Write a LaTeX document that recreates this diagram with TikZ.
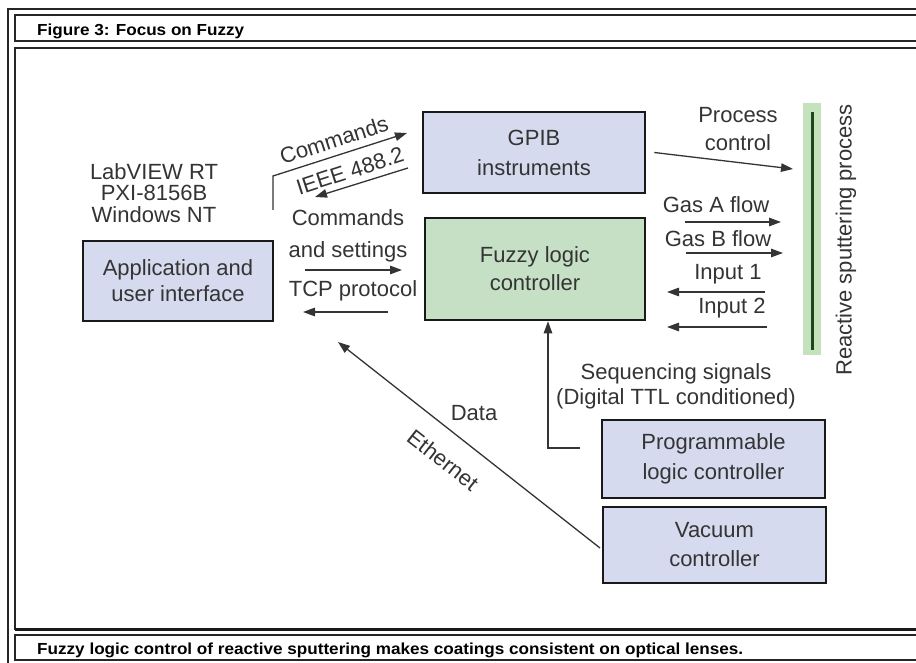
\documentclass[tikz,border=0pt]{standalone}
\usepackage{fontspec}
\setmainfont{Liberation Sans}
\newfontfamily\capfamily[FakeStretch=1.07]{Liberation Sans}
\usetikzlibrary{arrows.meta}

\definecolor{boxblue}{RGB}{214,218,238}
\definecolor{boxgreen}{RGB}{198,224,198}
\definecolor{barlight}{RGB}{196,226,188}
\definecolor{bardark}{RGB}{28,72,28}
\definecolor{inkgray}{RGB}{52,52,52}
\newcommand{\lblfont}{\fontsize{22}{27}\selectfont}
\newcommand{\capfont}{\capfamily\fontsize{16}{18}\selectfont\bfseries}

\begin{document}
\begin{tikzpicture}[x=1pt, y=-1pt,
		blockbox/.style={draw=black!90, line width=2.6pt, fill=boxblue, inner sep=0pt, align=center, text=inkgray, font=\lblfont},
		lbl/.style={inner sep=0pt, align=center, text=inkgray, font=\lblfont},
		flow/.style={draw=inkgray, line width=1.3pt, -{Triangle[length=12pt, width=8.5pt]}},
		frameline/.style={draw=black!85, line width=1.6pt}]
		\clip (0, 0) rectangle (916, 663);
		\fill[white] (0, 0) rectangle (916, 663);

		\draw[frameline] (8, 9) rectangle (930, 675);
		\draw[frameline] (15, 15) rectangle (925, 41);
		\draw[frameline] (15, 48) rectangle (925, 629);
		\draw[black!90, line width=3pt] (15, 629) -- (925, 629);
		\draw[frameline] (15, 635) rectangle (925, 660);
		\node[anchor=base west, inner sep=0pt, font=\capfont] (title) at (37, 35.7) {Figure 3: Focus on Fuzzy};
		\node[anchor=base west, inner sep=0pt, font=\capfont] (caption) at (37, 654) {Fuzzy logic control of reactive sputtering makes coatings consistent on optical lenses.};

		\node[blockbox, minimum width=222pt, minimum height=81pt] (gpib) at (534, 152.5) {GPIB\\[3pt]instruments};
		\node[blockbox, fill=boxgreen, minimum width=220pt, minimum height=102pt] (fuzzy) at (535, 269) {Fuzzy logic\\[1pt]controller};
		\node[blockbox, minimum width=190pt, minimum height=80pt] (app) at (178, 281) {Application and\\[-1pt]user interface};
		\node[blockbox, minimum width=223pt, minimum height=78pt] (plc) at (713.5, 459) {Programmable\\[3pt]logic controller};
		\node[blockbox, minimum width=223pt, minimum height=76pt] (vacuum) at (714.5, 545) {Vacuum\\[2pt]controller};

		\node[fill=barlight, minimum width=18pt, minimum height=252pt, inner sep=0pt] (sputter) at (812, 229) {};
		\draw[bardark, line width=3pt] ([yshift=-9pt]sputter.north) -- ([yshift=5pt]sputter.south);
		\node[lbl, rotate=90] (sputterlbl) at (846, 240) {Reactive sputtering process};

		\node[lbl] (labview) at (154, 193) {LabVIEW RT\\[-5.5pt]PXI-8156B\\[-5.5pt]Windows NT};

		\coordinate (cmdstart) at (273, 210);
		\coordinate (cmdbend) at (273, 176);
		\coordinate (cmdtip) at (407, 133);
		\draw[flow] (cmdstart) -- (cmdbend) -- (cmdtip);
		\coordinate (ieeestart) at (408, 168);
		\coordinate (ieeetip) at (315, 197);
		\draw[flow] (ieeestart) -- (ieeetip);
		\node[lbl, rotate=18] (cmdlbl) at (334, 140) {Commands};
		\node[lbl, rotate=18] (ieeelbl) at (350, 171) {IEEE 488.2};

		\coordinate (setstart) at (305, 270);
		\coordinate (settip) at (402, 270);
		\draw[flow] (setstart) -- (settip);
		\coordinate (tcpstart) at (388, 312);
		\coordinate (tcptip) at (303, 312);
		\draw[flow] (tcpstart) -- (tcptip);
		\node[lbl] (setlbl) at (348, 236) {Commands\\[5pt]and settings};
		\node[lbl] (tcplbl) at (353, 291) {TCP protocol};

		\coordinate (pcend) at (793, 169);
		\draw[flow] ([xshift=8pt]gpib.east) -- (pcend);
		\node[lbl] (pclbl) at (738, 129) {Process\\[1pt]control};

		\coordinate (gasAa) at (685, 222);
		\coordinate (gasAb) at (781, 222);
		\draw[flow] (gasAa) -- (gasAb);
		\node[lbl] (gasAlbl) at (716, 205) {Gas A flow};
		\coordinate (gasBa) at (686, 253);
		\coordinate (gasBb) at (783, 253);
		\draw[flow] (gasBa) -- (gasBb);
		\node[lbl] (gasBlbl) at (718, 239) {Gas B flow};
		\coordinate (inAa) at (765, 292);
		\coordinate (inAb) at (667, 292);
		\draw[flow] (inAa) -- (inAb);
		\node[lbl] (inAlbl) at (728, 274) {Input 1};
		\coordinate (inBa) at (767, 327);
		\coordinate (inBb) at (667, 327);
		\draw[flow] (inBa) -- (inBb);
		\node[lbl] (inBlbl) at (732, 308) {Input 2};

		\coordinate (seqstart) at (580, 448);
		\draw[flow] (seqstart) -| ([xshift=13pt]fuzzy.south);
		\node[lbl] (seqlbl) at (676, 386) {Sequencing signals\\[-2pt](Digital TTL conditioned)};

		\coordinate (ethstart) at (600, 548);
		\coordinate (ethtip) at (338, 342);
		\draw[flow] (ethstart) -- (ethtip);
		\node[lbl] (datalbl) at (474, 413) {Data};
		\node[lbl, rotate=-38] (ethlbl) at (443, 460) {Ethernet};
	\end{tikzpicture}
\end{document}
